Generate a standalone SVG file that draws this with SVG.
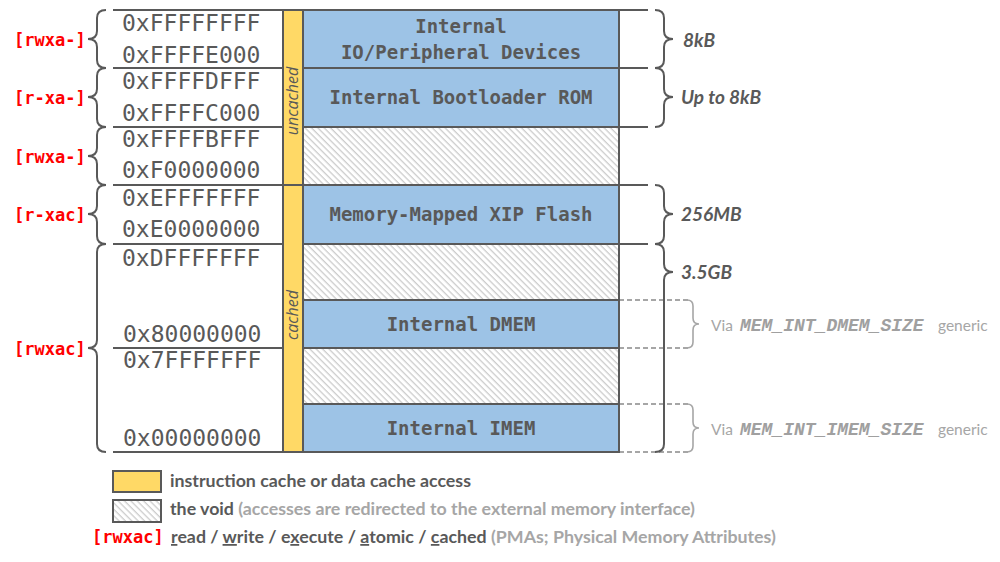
<svg xmlns="http://www.w3.org/2000/svg" width="1000" height="562" viewBox="0 0 1000 562">
<defs>
<pattern id="hatch" width="4.5" height="4.5" patternUnits="userSpaceOnUse" patternTransform="rotate(45)">
<rect width="4.5" height="4.5" fill="#ffffff"/>
<rect width="4.5" height="1.3" fill="#cccccc"/>
</pattern>
<style>
.ln{stroke:#595959;stroke-width:2;fill:none}
.br{stroke:#595959;stroke-width:2;fill:none}
.lbr{stroke:#a6a6a6;stroke-width:1.6;fill:none}
.dash{stroke:#a6a6a6;stroke-width:2;stroke-dasharray:5 3;fill:none}
.blue{fill:#9dc3e6;stroke:#595959;stroke-width:2}
.void{fill:url(#hatch);stroke:#595959;stroke-width:2}
.yel{fill:#ffd966;stroke:#595959;stroke-width:2}
.addr{font-family:"DejaVu Sans Mono",monospace;font-size:23px;fill:#595959}
.pma{font-family:"DejaVu Sans Mono",monospace;font-size:17px;font-weight:bold;fill:#ff0000}
.box{font-family:"DejaVu Sans Mono",monospace;font-size:19px;font-weight:bold;fill:#595959;text-anchor:middle}
.size{font-family:Lato,"Open Sans",sans-serif;font-size:19px;font-weight:bold;font-style:italic;fill:#595959}
.vert{font-family:"Open Sans",sans-serif;font-size:16px;font-style:italic;fill:#595959;text-anchor:middle}
.via{font-family:Lato,"Open Sans",sans-serif;font-size:15.5px;fill:#a6a6a6}
.viam{font-family:"Liberation Mono",monospace;font-size:18px;font-weight:bold;font-style:italic;fill:#a0a0a0}
.leg{font-family:Lato,"Open Sans",sans-serif;font-size:17.8px;font-weight:bold;fill:#595959}
.legl{fill:#a6a6a6}
</style>
</defs>
<rect width="1000" height="562" fill="#ffffff"/>

<g id="connectors">
<path class="ln" d="M113,10H283M113,68H283M113,127H283M113,185H283M113,244H283M113,348H283M113,452H283"/>
<path class="ln" d="M619,10H648M619,68H648M619,127H648M619,185H648M619,244H648"/>
<path class="dash" d="M619,300H689M619,348H689M619,404H689M619,452H689"/>
<path class="br" d="M106,10Q97,10 97,18V31Q97,39 88,39Q97,39 97,47V60Q97,68 106,68"/>
<path class="br" d="M106,68Q97,68 97,76V89Q97,97 88,97Q97,97 97,105V119Q97,127 106,127"/>
<path class="br" d="M106,127Q97,127 97,135V148Q97,156 88,156Q97,156 97,164V177Q97,185 106,185"/>
<path class="br" d="M106,185Q97,185 97,193V206Q97,214 88,214Q97,214 97,222V236Q97,244 106,244"/>
<path class="br" d="M106,244Q97,244 97,252V340Q97,348 88,348Q97,348 97,356V444Q97,452 106,452"/>
<path class="br" d="M655,10Q664,10 664,18V31Q664,39 673,39Q664,39 664,47V60Q664,68 655,68"/>
<path class="br" d="M655,68Q664,68 664,76V89Q664,97 673,97Q664,97 664,105V119Q664,127 655,127"/>
<path class="br" d="M655,185Q664,185 664,193V206Q664,214 673,214Q664,214 664,222V236Q664,244 655,244"/>
<path class="br" d="M655,244Q664,244 664,252V264Q664,272 673,272Q664,272 664,280V444Q664,452 655,452"/>
<path class="lbr" d="M687,300Q693,300 693,306V318Q693,324 699,324Q693,324 693,330V342Q693,348 687,348"/>
<path class="lbr" d="M687,404Q693,404 693,410V422Q693,428 699,428Q693,428 693,434V446Q693,452 687,452"/>
</g>

<g id="cache-column">
<rect class="yel" x="283" y="10" width="20" height="175"/>
<rect class="yel" x="283" y="185" width="20" height="267"/>
<text class="vert" transform="translate(298,101) rotate(-90)">uncached</text>
<text class="vert" transform="translate(298,315) rotate(-90)">cached</text>
</g>

<g id="io">
<rect class="blue" x="303" y="10" width="316" height="58"/>
<text class="box" x="461" y="33">Internal</text>
<text class="box" x="461" y="59">IO/Peripheral Devices</text>
</g>
<g id="rom">
<rect class="blue" x="303" y="68" width="316" height="59"/>
<text class="box" x="461" y="104">Internal Bootloader ROM</text>
</g>
<g id="void1"><rect class="void" x="303" y="127" width="316" height="58"/></g>
<g id="xip">
<rect class="blue" x="303" y="185" width="316" height="59"/>
<text class="box" x="461" y="221">Memory-Mapped XIP Flash</text>
</g>
<g id="void2"><rect class="void" x="303" y="244" width="316" height="56"/></g>
<g id="dmem">
<rect class="blue" x="303" y="300" width="316" height="48"/>
<text class="box" x="461" y="331">Internal DMEM</text>
</g>
<g id="void3"><rect class="void" x="303" y="348" width="316" height="56"/></g>
<g id="imem">
<rect class="blue" x="303" y="404" width="316" height="48"/>
<text class="box" x="461" y="435">Internal IMEM</text>
</g>

<g id="addresses">
<text class="addr" x="122" y="31">0xFFFFFFFF</text>
<text class="addr" x="122" y="63">0xFFFFE000</text>
<text class="addr" x="122" y="89">0xFFFFDFFF</text>
<text class="addr" x="122" y="121">0xFFFFC000</text>
<text class="addr" x="122" y="147">0xFFFFBFFF</text>
<text class="addr" x="122" y="178">0xF0000000</text>
<text class="addr" x="122" y="206">0xEFFFFFFF</text>
<text class="addr" x="122" y="237">0xE0000000</text>
<text class="addr" x="122" y="266">0xDFFFFFFF</text>
<text class="addr" x="123" y="342">0x80000000</text>
<text class="addr" x="123" y="368">0x7FFFFFFF</text>
<text class="addr" x="123" y="446">0x00000000</text>
</g>

<g id="pma-labels">
<text class="pma" x="14" y="46">[rwxa-]</text>
<text class="pma" x="14" y="104">[r-xa-]</text>
<text class="pma" x="14" y="163">[rwxa-]</text>
<text class="pma" x="14" y="221">[r-xac]</text>
<text class="pma" x="14" y="355">[rwxac]</text>
</g>

<g id="sizes">
<text class="size" x="683" y="47">8kB</text>
<text class="size" x="681" y="104">Up to 8kB</text>
<text class="size" x="681" y="221">256MB</text>
<text class="size" x="681" y="279">3.5GB</text>
<text class="via" x="711" y="331">Via</text>
<text class="viam" x="740" y="331">MEM_INT_DMEM_SIZE</text>
<text class="via" x="938" y="331">generic</text>
<text class="via" x="711" y="435">Via</text>
<text class="viam" x="740" y="435">MEM_INT_IMEM_SIZE</text>
<text class="via" x="938" y="435">generic</text>
</g>

<g id="legend">
<rect class="yel" x="113" y="471" width="48" height="21"/>
<text class="leg" x="170" y="487">instruction cache or data cache access</text>
<rect class="void" x="113" y="500" width="48" height="22"/>
<text class="leg" x="170" y="515">the void <tspan class="legl">(accesses are redirected to the external memory interface)</tspan></text>
<text class="pma" x="92" y="543">[rwxac]</text>
<text class="leg" x="171" y="543"><tspan text-decoration="underline">r</tspan>ead / <tspan text-decoration="underline">w</tspan>rite / e<tspan text-decoration="underline">x</tspan>ecute / <tspan text-decoration="underline">a</tspan>tomic / <tspan text-decoration="underline">c</tspan>ached <tspan class="legl">(PMAs; Physical Memory Attributes)</tspan></text>
</g>
</svg>
